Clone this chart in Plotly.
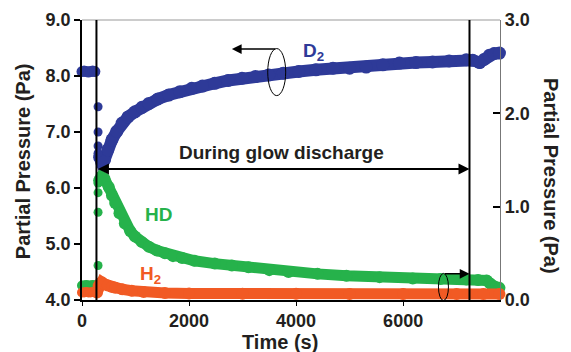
import plotly.graph_objects as go

# ---------------- data ----------------
# D2 (left axis, Pa)
d2_pre_t = [0, 40, 80, 120, 160, 200, 240]
d2_pre_v = [8.08, 8.09, 8.08, 8.07, 8.08, 8.09, 8.08]
d2_jump_t = [300, 300, 300, 300]
d2_jump_v = [7.45, 7.00, 6.75, 6.62]
d2_t = [330, 370, 420, 480, 560, 650, 750, 860, 990, 1120, 1250, 1420, 1620,
        1830, 2050, 2250, 2480, 2730, 2990, 3240, 3490, 3760, 4050, 4370, 4690,
        5000, 5310, 5620, 5930, 6240, 6550, 6860, 7180, 7300, 7430, 7520, 7610,
        7700, 7800]
d2_v = [6.55, 6.45, 6.50, 6.68, 6.86, 7.01, 7.16, 7.27, 7.36, 7.44, 7.51, 7.59,
        7.66, 7.72, 7.78, 7.82, 7.87, 7.92, 7.96, 7.99, 8.02, 8.05, 8.08, 8.11,
        8.14, 8.14, 8.16, 8.20, 8.23, 8.24, 8.25, 8.27, 8.29, 8.28, 8.24, 8.30,
        8.37, 8.40, 8.41]

# HD (right axis, Pa)
hd_pre_t = [0, 40, 80, 120, 160, 200, 240]
hd_pre_v = [0.155, 0.155, 0.16, 0.155, 0.155, 0.16, 0.155]
hd_jump_t = [300, 300, 300, 300]
hd_jump_v = [0.37, 0.94, 1.15, 1.25]
hd_t = [320, 360, 420, 500, 560, 620, 700, 800, 900, 990, 1120, 1250, 1400,
        1550, 1700, 1870, 2100, 2480, 2800, 3110, 3500, 3860, 4400, 4940, 5560,
        6180, 6700, 7180, 7400, 7560, 7620, 7670, 7730, 7800]
hd_v = [1.28, 1.32, 1.30, 1.21, 1.12, 1.04, 0.93, 0.82, 0.74, 0.68, 0.62, 0.57,
        0.53, 0.50, 0.47, 0.45, 0.42, 0.39, 0.37, 0.35, 0.32, 0.30, 0.28, 0.26,
        0.245, 0.23, 0.225, 0.22, 0.215, 0.21, 0.18, 0.15, 0.14, 0.13]

# H2 (right axis, Pa)
h2_pre_t = [0, 40, 80, 120, 160, 200, 240]
h2_pre_v = [0.08, 0.08, 0.085, 0.08, 0.08, 0.085, 0.08]
h2_t = [280, 310, 340, 370, 420, 480, 560, 620, 750, 930, 1150, 1550, 2000,
        3000, 4000, 5000, 6000, 7000, 7500, 7800]
h2_v = [0.08, 0.15, 0.18, 0.19, 0.17, 0.155, 0.14, 0.13, 0.115, 0.10, 0.085,
        0.075, 0.07, 0.068, 0.066, 0.065, 0.065, 0.065, 0.065, 0.065]

x_ticks = [0, 2000, 4000, 6000]
y1_ticks = [4.0, 5.0, 6.0, 7.0, 8.0, 9.0]
y2_ticks = [0.0, 1.0, 2.0, 3.0]

glow_start = 270
glow_end = 7240

BLUE = "#2E3A98"
GREEN = "#26B24B"
RED = "#F15A24"
TXT = "#231F20"
FONT = "Liberation Sans"

fig = go.Figure()

def band(t, v, color, yaxis, w=11):
    fig.add_trace(go.Scatter(x=t, y=v, mode="lines+markers", yaxis=yaxis,
                             line=dict(color=color, width=w),
                             marker=dict(color=color, size=w + 1),
                             cliponaxis=False, showlegend=False, hoverinfo="skip"))

def dots(t, v, color, yaxis, size=10):
    fig.add_trace(go.Scatter(x=t, y=v, mode="markers", yaxis=yaxis,
                             marker=dict(color=color, size=size),
                             cliponaxis=False, showlegend=False, hoverinfo="skip"))

band(d2_t, d2_v, BLUE, "y", 12)
dots(d2_pre_t, d2_pre_v, BLUE, "y", 11)
dots(d2_jump_t, d2_jump_v, BLUE, "y", 9)
band(hd_t, hd_v, GREEN, "y2", 11)
dots(hd_pre_t, hd_pre_v, GREEN, "y2", 10)
dots(hd_jump_t, hd_jump_v, GREEN, "y2", 9)
band(h2_t, h2_v, RED, "y2", 11)
dots(h2_pre_t, h2_pre_v, RED, "y2", 10)

tickfont = dict(family=FONT, size=18, color=TXT, weight="bold")

# page body has an 8px default margin: the figure is sized to fit the window
fig.update_layout(
    width=563, height=344,
    margin=dict(l=74, r=71, t=12, b=52),
    paper_bgcolor="white", plot_bgcolor="white",
    font=dict(family=FONT, color=TXT),
    xaxis=dict(range=[0, 7810], tickvals=x_ticks, ticktext=[str(v) for v in x_ticks],
               showgrid=False, zeroline=False, showline=True, linecolor="black",
               linewidth=1.5, ticks="outside", ticklen=4, tickcolor="black",
               tickwidth=1, tickfont=tickfont, automargin=False),
    yaxis=dict(range=[4, 9], tickvals=y1_ticks, ticktext=[f"{v:.1f}" for v in y1_ticks],
               showgrid=False, zeroline=False, showline=True, linecolor="black",
               linewidth=1.5, ticks="outside", ticklen=6, tickcolor="black",
               tickwidth=1.5, tickfont=tickfont, automargin=False),
    yaxis2=dict(range=[0, 3], tickvals=y2_ticks, ticktext=[f"{v:.1f}" for v in y2_ticks],
                overlaying="y", side="right", showgrid=False, zeroline=False,
                showline=True, linecolor="#777777", linewidth=1.2, ticks="inside",
                ticklen=7, tickcolor="black", tickwidth=1.5, tickfont=tickfont,
                automargin=False),
)

shapes = [
    dict(type="line", xref="paper", yref="paper", x0=0, x1=1, y0=1, y1=1,
         line=dict(color="#999999", width=1)),
    dict(type="line", xref="x", yref="paper", x0=glow_start, x1=glow_start, y0=0, y1=1,
         line=dict(color="black", width=2)),
    dict(type="line", xref="x", yref="paper", x0=glow_end, x1=glow_end, y0=0, y1=1,
         line=dict(color="black", width=2)),
    dict(type="circle", xref="x", yref="y", x0=3470, x1=3806, y0=7.65, y1=8.49,
         line=dict(color="black", width=1)),
    dict(type="circle", xref="x", yref="y2", x0=6660, x1=6847, y0=-0.005, y1=0.285,
         line=dict(color="black", width=1)),
]
fig.update_layout(shapes=shapes)

ann = []
ann.append(dict(x=glow_end, y=6.34, ax=glow_start, ay=6.34, xref="x", yref="y",
                axref="x", ayref="y", text="", showarrow=True, arrowhead=2,
                startarrowhead=2, arrowside="end+start", arrowwidth=2,
                arrowsize=1.1, startarrowsize=1.1, arrowcolor="black",
                standoff=0, startstandoff=0))
ann.append(dict(x=2800, y=8.48, ax=3638, ay=8.48, xref="x", yref="y",
                axref="x", ayref="y", text="", showarrow=True, arrowhead=2,
                arrowwidth=1.5, arrowsize=1.3, arrowcolor="black", standoff=0))
ann.append(dict(x=glow_end, y=0.28, ax=6754, ay=0.28, xref="x", yref="y2",
                axref="x", ayref="y2", text="", showarrow=True, arrowhead=2,
                arrowwidth=1.5, arrowsize=1.3, arrowcolor="black", standoff=0))

ann.append(dict(x=3731, y=6.64, xref="x", yref="y", xanchor="center", yanchor="middle",
                text="<b>During glow discharge</b>",
                showarrow=False, font=dict(family=FONT, size=19, color=TXT)))
ann.append(dict(x=4100, y=8.43, xref="x", yref="y", xanchor="left", yanchor="middle",
                text="<b>D<sub>2</sub></b>", showarrow=False,
                font=dict(family=FONT, size=19, color=BLUE)))
ann.append(dict(x=1138, y=5.52, xref="x", yref="y", xanchor="left", yanchor="middle",
                text="<b>HD</b>", showarrow=False,
                font=dict(family=FONT, size=19, color=GREEN)))
ann.append(dict(x=1045, y=4.44, xref="x", yref="y", xanchor="left", yanchor="middle",
                text="<b>H<sub>2</sub></b>", showarrow=False,
                font=dict(family=FONT, size=19, color=RED)))

ann.append(dict(x=-0.141, y=0.496, xref="paper", yref="paper", textangle=-90,
                xanchor="center", yanchor="middle",
                text="<b>Partial Pressure (Pa)</b>", showarrow=False,
                font=dict(family=FONT, size=20, color=TXT)))
ann.append(dict(x=1.122, y=0.443, xref="paper", yref="paper", textangle=90,
                xanchor="center", yanchor="middle",
                text="<b>Partial Pressure (Pa)</b>", showarrow=False,
                font=dict(family=FONT, size=20, color=TXT)))
ann.append(dict(x=0.474, y=-0.15, xref="paper", yref="paper",
                xanchor="center", yanchor="middle",
                text="<b>Time (s)</b>", showarrow=False,
                font=dict(family=FONT, size=20, color=TXT)))
fig.update_layout(annotations=ann)

fig.write_html("out.html")
